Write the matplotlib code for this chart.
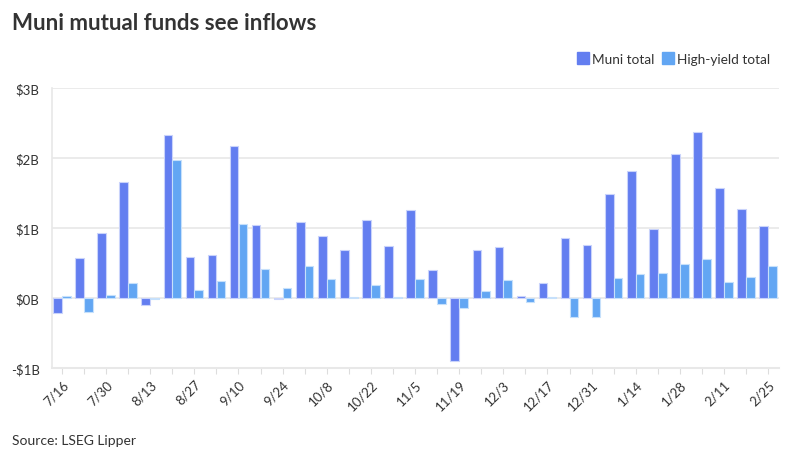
import numpy as np
import matplotlib.pyplot as plt
from matplotlib.lines import Line2D

plt.rcParams['font.family'] = ['Lato', 'DejaVu Sans']

# Weekly fund flows, $ billions
weeks = ['7/16', '7/23', '7/30', '8/6', '8/13', '8/20', '8/27', '9/3', '9/10',
         '9/17', '9/24', '10/1', '10/8', '10/15', '10/22', '10/29', '11/5',
         '11/12', '11/19', '11/26', '12/3', '12/10', '12/17', '12/24', '12/31',
         '1/7', '1/14', '1/21', '1/28', '2/4', '2/11', '2/18', '2/25']
muni_total = [-0.22, 0.57, 0.93, 1.65, -0.10, 2.33, 0.59, 0.62, 2.17,
              1.04, -0.02, 1.08, 0.88, 0.68, 1.11, 0.74, 1.25,
              0.40, -0.90, 0.68, 0.73, 0.03, 0.22, 0.85, 0.75,
              1.48, 1.82, 0.99, 2.05, 2.37, 1.57, 1.27, 1.03]
hy_total = [0.03, -0.20, 0.04, 0.22, -0.02, 1.97, 0.12, 0.24, 1.06,
            0.42, 0.14, 0.45, 0.27, 0.015, 0.18, 0.01, 0.27,
            -0.08, -0.14, 0.10, 0.26, -0.06, 0.015, -0.27, -0.27,
            0.29, 0.34, 0.35, 0.49, 0.56, 0.23, 0.30, 0.45]
y_ticks = [-1, 0, 1, 2, 3]
y_labels = ['-$1B', '$0B', '$1B', '$2B', '$3B']

muni_color = '#637ef0'
hy_color = '#62a6f3'
text_color = '#333333'
grid_color = '#e8e8e8'

fig = plt.figure(figsize=(8, 4.6), dpi=100)
ax = fig.add_axes([0.065, 0.198, 0.909, 0.6085])

x = np.arange(len(weeks))
w = 0.39
ax.bar(x - 0.2, muni_total, width=w, color=muni_color, edgecolor='#c9d3fb',
       linewidth=0.8, zorder=3)
ax.bar(x + 0.2, hy_total, width=w, color=hy_color, edgecolor='#c6e0fb',
       linewidth=0.8, zorder=3)

ax.set_ylim(-1, 3)
ax.set_xlim(-0.45, len(weeks) - 0.5)
ax.set_yticks(y_ticks)
ax.set_yticklabels(y_labels, fontsize=9.5, color=text_color)
ax.tick_params(axis='y', length=0, pad=9)
ax.grid(axis='y', color=grid_color, linewidth=1.2, zorder=0)

ax.set_xticks(x)
ax.set_xticklabels([wk if i % 2 == 0 else '' for i, wk in enumerate(weeks)],
                   rotation=45, ha='right', rotation_mode='anchor',
                   fontsize=9.5, color=text_color)
ax.tick_params(axis='x', length=4, color='#dddddd', pad=3)

for side in ['top', 'right']:
    ax.spines[side].set_visible(False)
ax.spines['left'].set_color(grid_color)
ax.spines['bottom'].set_color(grid_color)
ax.spines['left'].set_linewidth(1.2)
ax.spines['bottom'].set_linewidth(1.5)

handles = [Line2D([], [], marker='s', linestyle='none', markersize=8,
                  color=muni_color, label='Muni total'),
           Line2D([], [], marker='s', linestyle='none', markersize=8,
                  color=hy_color, label='High-yield total')]
fig.legend(handles=handles, loc='center right', bbox_to_anchor=(0.978, 1 - 60 / 460),
           ncol=2, frameon=False, fontsize=9.8, handletextpad=0.15,
           columnspacing=0.5, handlelength=1.0, labelcolor=text_color)

fig.text(12 / 800, 1 - 24 / 460, 'Muni mutual funds see inflows', fontsize=16,
         fontweight='bold', color=text_color, va='center', ha='left')
fig.text(12 / 800, 1 - 441 / 460, 'Source: LSEG Lipper', fontsize=10,
         color=text_color, va='center', ha='left')

fig.savefig('out.png', dpi=100)
